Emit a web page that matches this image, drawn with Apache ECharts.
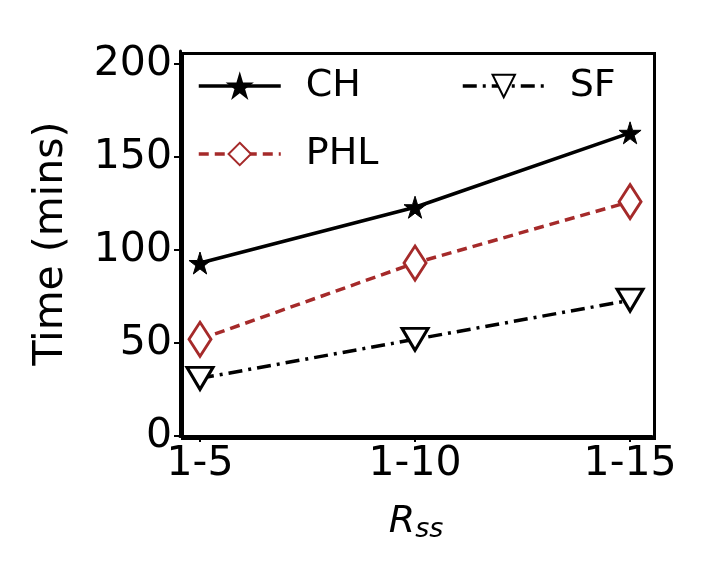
<!DOCTYPE html><html><head><meta charset="utf-8">
<script src="https://cdn.jsdelivr.net/npm/echarts@6/dist/echarts.min.js"></script>
<style>html,body{margin:0;background:#fff}#c{width:720px;height:576px}</style></head><body><div id="c"></div>
<script>
const categories=['1-5','1-10','1-15'];
const ch=[93,123,163];
const phl=[52,93,126];
const sf=[31,52,73];
const star='path://M50,0 L61,35 L98,35 L68,57 L79,91 L50,70 L21,91 L32,57 L2,35 L39,35 Z';
const pts=a=>a.map((v,i)=>[i,v]);
const c=echarts.init(document.getElementById('c'));
const F='DejaVu Sans';
c.setOption({
 animation:false,
 grid:{left:180,right:68,top:51,bottom:140},
 xAxis:{type:'value',min:-0.093,max:2.102,
  axisLine:{show:true,onZero:false,lineStyle:{color:'#000',width:3}},
  axisTick:{show:true,length:6,lineStyle:{width:2,color:'#000'},customValues:[0,1,2]},
  axisLabel:{fontSize:41,fontFamily:F,color:'#000',margin:8,customValues:[0,1,2],formatter:v=>categories[Math.round(v)]},
  splitLine:{show:false},
  name:'{i|R}{s|ss}',nameLocation:'middle',nameGap:66,
  nameTextStyle:{rich:{i:{fontSize:38,fontStyle:'italic',fontFamily:F,color:'#000'},s:{fontSize:27,fontStyle:'italic',fontFamily:F,color:'#000',verticalAlign:'bottom',padding:[14,0,0,0]}}}},
 yAxis:{type:'value',min:0,max:207,
  axisLine:{show:true,onZero:false,lineStyle:{color:'#000',width:3}},
  axisTick:{show:true,length:6,lineStyle:{width:2,color:'#000'},customValues:[0,50,100,150,200]},
  axisLabel:{fontSize:41,fontFamily:F,color:'#000',margin:8,customValues:[0,50,100,150,200]},
  splitLine:{show:false},
  name:'Time (mins)',nameLocation:'middle',nameGap:108,nameTextStyle:{fontSize:41,fontFamily:F,color:'#000'}},
 graphic:[{type:'rect',left:180,top:51,shape:{width:472,height:385},style:{fill:'none',stroke:'#000',lineWidth:3},z:100}],
 legend:[
  {data:['CH','PHL'],orient:'vertical',left:192,top:62,itemWidth:82,itemHeight:28,itemGap:30,lineStyle:{width:3.5},textStyle:{fontSize:38,fontFamily:F,color:'#000',padding:[0,0,0,20]}},
  {data:['SF'],orient:'vertical',left:456,top:62,itemWidth:82,itemHeight:28,lineStyle:{width:3.5},textStyle:{fontSize:38,fontFamily:F,color:'#000',padding:[0,0,0,20]}}
 ],
 series:[
  {name:'CH',type:'line',data:pts(ch),symbol:star,symbolSize:22,lineStyle:{color:'#000',width:3.5},itemStyle:{color:'#000',borderColor:'#000',borderWidth:1}},
  {name:'PHL',type:'line',data:pts(phl),symbol:'diamond',symbolSize:[22,34],lineStyle:{color:'#a52a2a',width:3.5,type:[10,6]},itemStyle:{color:'#fff',borderColor:'#a52a2a',borderWidth:3}},
  {name:'SF',type:'line',data:pts(sf),symbol:'triangle',symbolRotate:180,symbolSize:[26,22],lineStyle:{color:'#000',width:3.5,type:[14,6,3,6]},itemStyle:{color:'#fff',borderColor:'#000',borderWidth:3}}
 ]
});
</script></body></html>
